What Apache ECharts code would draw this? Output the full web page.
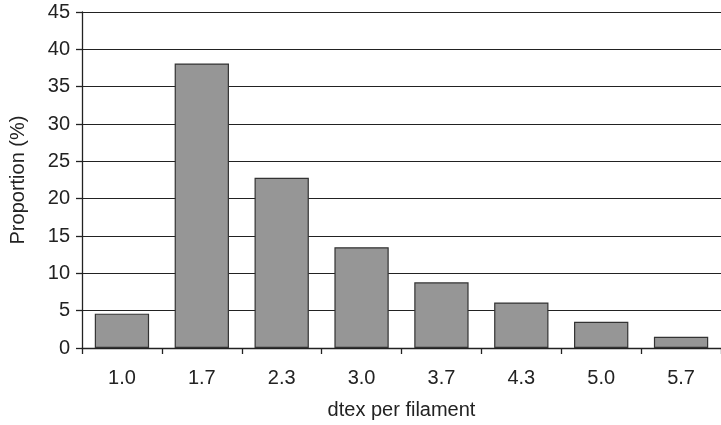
<!DOCTYPE html>
<html><head><meta charset="utf-8">
<script src="https://cdn.jsdelivr.net/npm/echarts@6/dist/echarts.min.js"></script>
<style>html,body{margin:0;padding:0;background:#fff}#c{width:721px;height:425px}</style>
</head><body><div id="c"></div>
<script>
const categories = ['1.0','1.7','2.3','3.0','3.7','4.3','5.0','5.7'];
const proportion = [4.6, 38.1, 22.8, 13.5, 8.8, 6.1, 3.5, 1.5];
const yTicks = [0,5,10,15,20,25,30,35,40,45];
const chart = echarts.init(document.getElementById('c'), null, {renderer:'canvas'});
const font = 'Liberation Sans, Arial, sans-serif';
chart.setOption({
  animation:false,
  backgroundColor:'#fff',
  grid:{left:81, right:0, top:12, bottom:76},
  xAxis:{
    type:'category', data:categories,
    name:'dtex per filament', nameLocation:'middle', nameGap:52,
    nameTextStyle:{fontFamily:font, fontSize:20, color:'#222'},
    axisLine:{lineStyle:{color:'#222', width:1.3}},
    axisTick:{show:true, length:6, lineStyle:{color:'#222', width:1.3}, alignWithLabel:false},
    axisLabel:{fontFamily:font, fontSize:20, color:'#222', margin:20}
  },
  yAxis:{
    type:'value', min:yTicks[0], max:yTicks[yTicks.length-1], interval:5,
    name:'Proportion (%)', nameLocation:'middle', nameGap:54,
    nameTextStyle:{fontFamily:font, fontSize:20, color:'#222'},
    axisLine:{show:true, lineStyle:{color:'#222', width:1.3}},
    axisTick:{show:true, length:6, lineStyle:{color:'#222', width:1.3}},
    axisLabel:{fontFamily:font, fontSize:20, color:'#222', margin:12},
    splitLine:{lineStyle:{color:'#222', width:1.2}}
  },
  series:[{
    type:'bar', data:proportion, barCategoryGap:'32%',
    itemStyle:{color:'#969696', borderColor:'#333', borderWidth:1.2}
  }]
});
</script></body></html>
